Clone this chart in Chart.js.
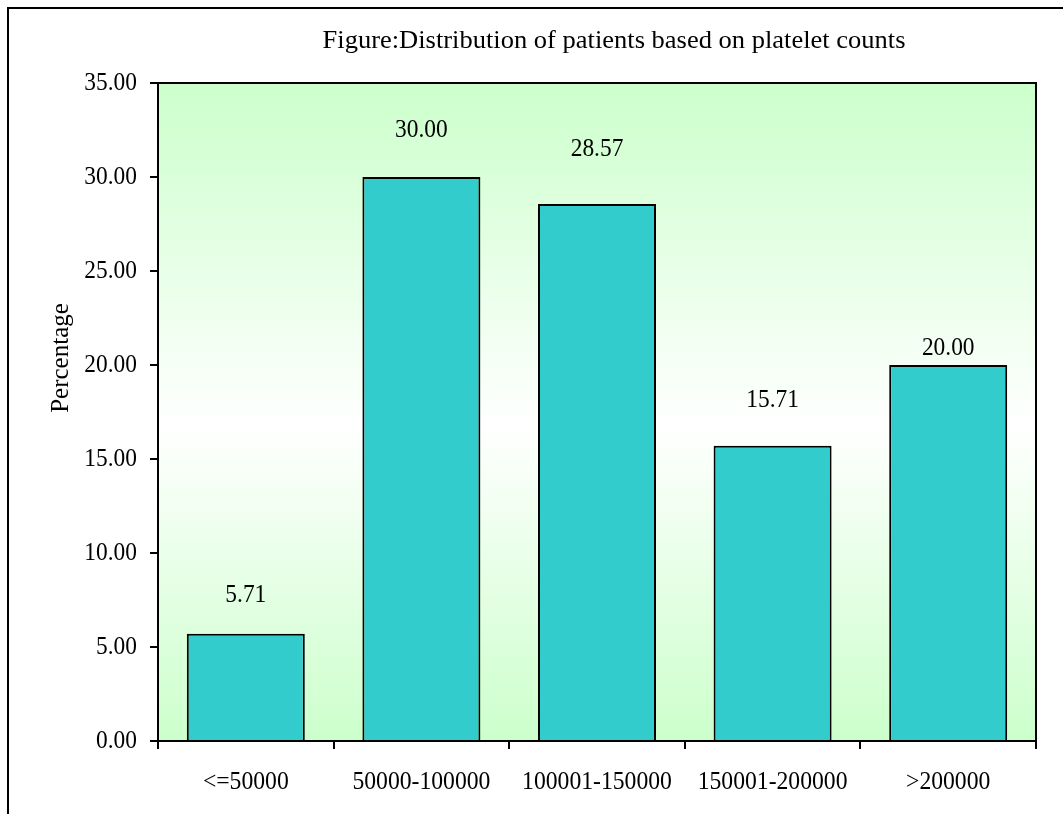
<!DOCTYPE html>
<html>
<head>
<meta charset="utf-8">
<script src="https://cdn.jsdelivr.net/npm/chart.js@4/dist/chart.umd.min.js"></script>
<style>
  html, body { margin: 0; padding: 0; background: #fff; }
  #wrap { width: 1063px; height: 814px; position: relative; }
</style>
</head>
<body>
<div id="wrap"><canvas id="c" width="1063" height="814"></canvas></div>
<script>
// Platelet count groups and the share of patients in each (%)
const categories = ['<=50000', '50000-100000', '100001-150000', '150001-200000', '>200000'];
const percentages = [5.71, 30.00, 28.57, 15.71, 20.00];
const yTicks = [0, 5, 10, 15, 20, 25, 30, 35];

const chartTitle = 'Figure:Distribution of patients based on platelet counts';
const yTitle = 'Percentage';

const SERIF = '"Liberation Serif", "Times New Roman", serif';

// Distance (px) between each bar top and the centre of its value label
const labelLift = [38, 47, 55, 45, 17];

// Text in a narrow (sx < 1) or wide (sx > 1) setting of the serif face
function drawText(ctx, text, x, y, size, sx, align) {
  ctx.save();
  ctx.font = size + 'px ' + SERIF;
  ctx.fillStyle = '#000';
  ctx.textAlign = align || 'center';
  ctx.textBaseline = 'middle';
  ctx.translate(x, y);
  ctx.scale(sx, 1);
  ctx.fillText(text, 0, 0);
  ctx.restore();
}

const decorations = {
  id: 'decorations',
  beforeDatasetsDraw(chart) {
    const { ctx, chartArea: a } = chart;
    const g = ctx.createLinearGradient(0, a.top, 0, a.bottom);
    g.addColorStop(0, '#CCFFCC');
    g.addColorStop(0.52, '#FFFFFF');
    g.addColorStop(1, '#CCFFCC');
    ctx.save();
    ctx.fillStyle = g;
    ctx.fillRect(a.left, a.top, a.right - a.left, a.bottom - a.top);
    ctx.restore();
  },
  afterDatasetsDraw(chart) {
    const { ctx, chartArea: a, scales } = chart;
    ctx.save();
    // frame round the plot area
    ctx.strokeStyle = '#000';
    ctx.lineWidth = 2;
    ctx.strokeRect(a.left, a.top, a.right - a.left, a.bottom - a.top);
    ctx.restore();

    // value labels above the bars
    const meta = chart.getDatasetMeta(0);
    meta.data.forEach((bar, i) => {
      drawText(ctx, percentages[i].toFixed(2), bar.x, bar.y - labelLift[i], 26, 0.9);
    });

    // y tick labels
    const y = scales.y;
    y.ticks.forEach((t, i) => {
      drawText(ctx, Number(t.value).toFixed(2), a.left - 21, y.getPixelForTick(i), 26, 0.9, 'right');
    });

    // category labels
    const x = scales.x;
    categories.forEach((c, i) => {
      drawText(ctx, c, x.getPixelForTick(i), a.bottom + 41, 26, 0.91);
    });

    // chart title
    drawText(ctx, chartTitle, 614, 41, 25, 1.06);

    // y-axis title
    ctx.save();
    ctx.translate(61, 358);
    ctx.rotate(-Math.PI / 2);
    drawText(ctx, yTitle, 0, 0, 25, 1);
    ctx.restore();

    // outer frame (top and left edges)
    ctx.save();
    ctx.strokeStyle = '#000';
    ctx.lineWidth = 2;
    ctx.beginPath();
    ctx.moveTo(8, 814);
    ctx.lineTo(8, 8);
    ctx.lineTo(1063, 8);
    ctx.stroke();
    ctx.restore();
  }
};

new Chart(document.getElementById('c'), {
  type: 'bar',
  data: {
    labels: categories,
    datasets: [{
      data: percentages,
      backgroundColor: '#33CCCC',
      borderColor: '#000000',
      borderWidth: 2,
      borderSkipped: 'start',
      barPercentage: 0.672,
      categoryPercentage: 1.0
    }]
  },
  options: {
    responsive: false,
    animation: false,
    devicePixelRatio: 1,
    layout: { padding: { left: 0, top: 83, right: 27, bottom: 0 } },
    plugins: {
      legend: { display: false },
      title: { display: false },
      tooltip: { enabled: false }
    },
    scales: {
      x: {
        grid: {
          offset: true,
          drawOnChartArea: false,
          drawTicks: true,
          tickLength: 8,
          color: '#000',
          lineWidth: 2
        },
        border: { display: true, color: '#000', width: 2 },
        ticks: {
          color: 'rgba(0,0,0,0)',
          font: { family: SERIF, size: 23 },
          padding: 20,
          maxRotation: 0,
          autoSkip: false
        },
        afterFit(scale) { scale.height = 73; }
      },
      y: {
        min: 0,
        max: 35,
        afterBuildTicks(scale) { scale.ticks = yTicks.map(v => ({ value: v })); },
        grid: {
          drawOnChartArea: false,
          drawTicks: true,
          tickLength: 8,
          color: '#000',
          lineWidth: 2
        },
        border: { display: true, color: '#000', width: 2 },
        ticks: {
          color: 'rgba(0,0,0,0)',
          font: { family: SERIF, size: 23 },
          padding: 13,
          callback: v => Number(v).toFixed(2)
        },
        afterFit(scale) { scale.width = 158; }
      }
    }
  },
  plugins: [decorations]
});
</script>
</body>
</html>
